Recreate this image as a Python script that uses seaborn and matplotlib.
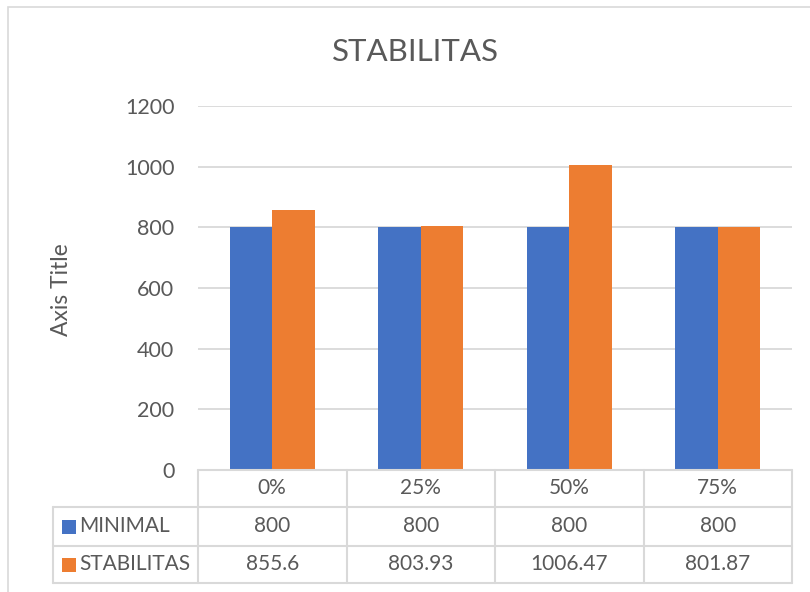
import pandas as pd
import seaborn as sns
import matplotlib.pyplot as plt
from matplotlib.patches import Rectangle
from matplotlib.transforms import blended_transform_factory

categories = ['0%', '25%', '50%', '75%']
minimal = [800, 800, 800, 800]
stabilitas = [855.6, 803.93, 1006.47, 801.87]
minimal_labels = ['800', '800', '800', '800']
stabilitas_labels = ['855.6', '803.93', '1006.47', '801.87']
series_names = ['MINIMAL', 'STABILITAS']
yticks = [0, 200, 400, 600, 800, 1000, 1200]


def main() -> None:
    sns.set_theme(style='white')
    plt.rcParams['font.family'] = ['Lato', 'DejaVu Sans']
    text_col = '#595959'
    grid_col = '#D9D9D9'
    colors = ['#4472C4', '#ED7D31']

    df = pd.DataFrame({
        'cat': categories * 2,
        'value': minimal + stabilitas,
        'series': [series_names[0]] * 4 + [series_names[1]] * 4,
    })

    W, H = 810, 592
    fig = plt.figure(figsize=(W / 100, H / 100), dpi=100)
    fig.patch.set_facecolor('white')

    # outer chart border
    fig.patches.append(Rectangle((8 / W, -0.1), 1.2, 1 - 7 / H + 0.1, transform=fig.transFigure,
                                 fill=False, edgecolor=grid_col, linewidth=1.2))

    left, right, top, bottom = 198, 792, 106, 470
    ax = fig.add_axes([left / W, 1 - bottom / H, (right - left) / W, (bottom - top) / H])
    ax.set_facecolor('none')

    sns.barplot(data=df, x='cat', y='value', hue='series', palette=colors,
                width=0.57, gap=0, saturation=1, ax=ax, legend=False, zorder=3,
                linewidth=0)

    ax.set_xlim(-0.5, 3.5)
    ax.set_ylim(0, 1200)
    ax.set_yticks(yticks)
    ax.set_yticklabels([str(t) for t in yticks])
    ax.tick_params(axis='y', length=0, pad=17, labelsize=15.5, labelcolor=text_col)
    ax.set_xticks([])
    ax.set_xlabel('')
    ax.set_ylabel('')
    for y in yticks[1:]:
        ax.axhline(y, color=grid_col, linewidth=1.3, zorder=1)
    for s in ax.spines.values():
        s.set_visible(False)

    fig.text(415 / W, 1 - 52 / H, 'STABILITAS', ha='center', va='center',
             fontsize=22.5, color=text_col)
    fig.text(61 / W, 1 - 290 / H, 'Axis Title', ha='center', va='center',
             rotation=90, fontsize=16.5, color=text_col)

    # data table under the plot
    ph = bottom - top
    tr = blended_transform_factory(ax.transData, ax.transAxes)
    rows = [470, 507, 546, 583]
    ry = [-(r - bottom) / ph for r in rows]
    cw = (right - left) / 4
    x_leg = (53 - left) / cw - 0.5
    lk = dict(color=grid_col, linewidth=1.5, transform=tr, clip_on=False, zorder=4)
    ax.plot([-0.5, 3.5], [ry[0], ry[0]], **lk)
    for r in ry[1:]:
        ax.plot([x_leg, 3.5], [r, r], **lk)
    for xv in [-0.5, 0.5, 1.5, 2.5, 3.5]:
        ax.plot([xv, xv], [ry[0], ry[3]], **lk)
    ax.plot([x_leg, x_leg], [ry[1], ry[3]], **lk)

    tk = dict(ha='center', va='center', fontsize=15, color=text_col, transform=tr, clip_on=False)
    mids = [(ry[i] + ry[i + 1]) / 2 for i in range(3)]
    for i, cat in enumerate(categories):
        ax.text(i, mids[0], cat, **tk)
        ax.text(i, mids[1], minimal_labels[i], **tk)
        ax.text(i, mids[2], stabilitas_labels[i], **tk)

    sq = 14 / ph
    for j, name in enumerate(series_names):
        xs = (62 - left) / cw - 0.5
        ax.add_patch(Rectangle((xs, mids[j + 1] - sq / 2), 14 / cw, sq, transform=tr,
                               facecolor=colors[j], edgecolor='none', clip_on=False))
        ax.text((79 - left) / cw - 0.5, mids[j + 1], name, ha='left', va='center',
                fontsize=15, color=text_col, transform=tr, clip_on=False)

    fig.savefig('out.png', dpi=100)


if __name__ == "__main__":
    main()
